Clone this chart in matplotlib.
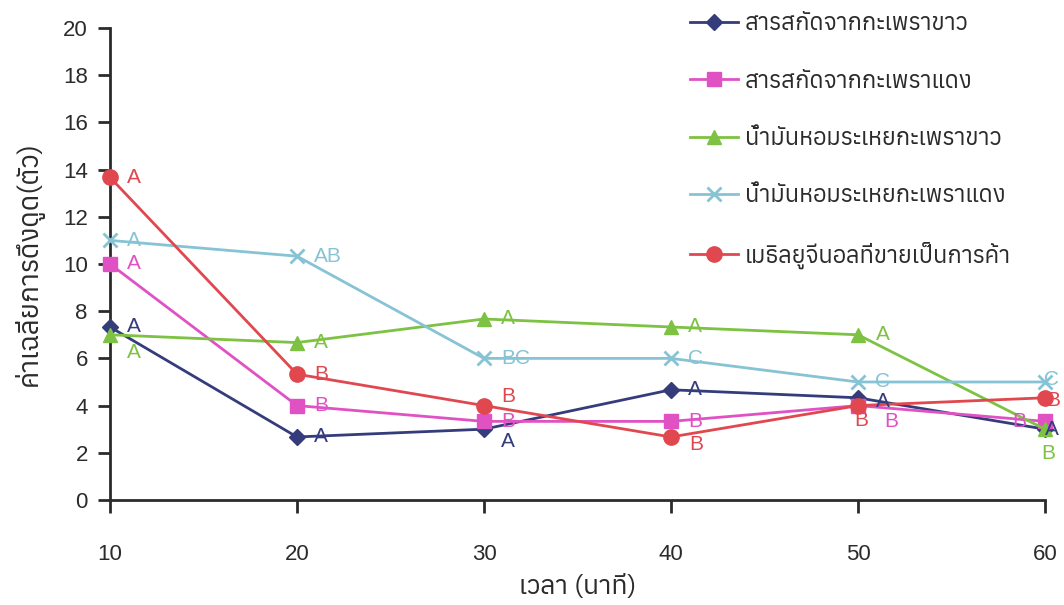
import matplotlib
matplotlib.use("Agg")
import matplotlib.pyplot as plt
from matplotlib import font_manager
from matplotlib.ft2font import FT2Font

# ---------------- data ----------------
times = [10, 20, 30, 40, 50, 60]
series_names = [
    "สารสกัดจากกะเพราขาว",
    "สารสกัดจากกะเพราแดง",
    "น้ำมันหอมระเหยกะเพราขาว",
    "น้ำมันหอมระเหยกะเพราแดง",
    "เมธิลยูจีนอลที่ขายเป็นการค้า",
]
white_extract = [7.33, 2.67, 3.0, 4.67, 4.33, 3.0]
red_extract = [10.0, 4.0, 3.33, 3.33, 4.0, 3.33]
white_oil = [7.0, 6.67, 7.67, 7.33, 7.0, 3.0]
red_oil = [11.0, 10.33, 6.0, 6.0, 5.0, 5.0]
methyl_eugenol = [13.67, 5.33, 4.0, 2.67, 4.0, 4.33]

white_extract_letters = ["A", "A", "A", "A", "A", "A"]
red_extract_letters = ["A", "B", "B", "B", "B", "B"]
white_oil_letters = ["A", "A", "A", "A", "A", "B"]
red_oil_letters = ["A", "AB", "BC", "C", "C", "C"]
methyl_eugenol_letters = ["A", "B", "B", "B", "B", "B"]

x_ticks = [10, 20, 30, 40, 50, 60]
y_ticks = [0, 2, 4, 6, 8, 10, 12, 14, 16, 18, 20]
x_label = "เวลา (นาที)"
y_label = "ค่าเฉลี่ยการดึงดูด(ตัว)"

# ---------------- fonts ----------------
def find_thai_font():
    cands = []
    for f in font_manager.fontManager.ttflist:
        try:
            ft = FT2Font(f.fname)
            if ft.get_char_index(ord("ก")) != 0:
                cands.append(f.name)
        except Exception:
            pass
    return sorted(set(cands))

thai = find_thai_font()
families = thai[:1] + ["Liberation Sans", "DejaVu Sans"]
plt.rcParams["font.family"] = families
latin = ["Liberation Sans", "DejaVu Sans"]
txt_color = "#2b2b2b"

colors = ["#343c7c", "#e052c4", "#7dc242", "#86c3d4", "#e0474f"]
markers = ["D", "s", "^", "x", "o"]
msizes = [8, 10, 10, 10, 11]
values = [white_extract, red_extract, white_oil, red_oil, methyl_eugenol]
letters = [white_extract_letters, red_extract_letters, white_oil_letters,
           red_oil_letters, methyl_eugenol_letters]

# letter offsets in pixels (dx for left edge, dy up positive)
std = (17, 0)
offsets = [
    [std, std, (17, -12), std, (18, -4), (0, 0)],
    [std, std, std, std, (26, -16), (-33, 0)],
    [(17, -18), std, std, std, (18, 0), (-4, -24)],
    [std, std, std, std, std, (-1, 2)],
    [std, std, (17, 9), (18, -8), (-4, -15), (1, -3)],
]

fig = plt.figure(figsize=(10.64, 6.05), dpi=100)
ax = fig.add_axes([0.1034, 0.1736, 0.8787, 0.7801])

for i in range(5):
    mew = 2 if markers[i] == "x" else 1
    ax.plot(times, values[i], color=colors[i], marker=markers[i], markersize=msizes[i],
            markeredgewidth=mew, linewidth=2, label=series_names[i], clip_on=False, zorder=3)
    for j, (t, v) in enumerate(zip(times, values[i])):
        dx, dy = offsets[i][j]
        ax.annotate(letters[i][j], (t, v), xytext=(dx, dy), textcoords="offset pixels",
                    ha="left", va="center", color=colors[i], fontsize=15,
                    family=latin, annotation_clip=False, zorder=4)

ax.set_xlim(10, 60)
ax.set_ylim(0, 20)
ax.set_xticks(x_ticks)
ax.set_yticks(y_ticks)
for s in ["top", "right"]:
    ax.spines[s].set_visible(False)
for s in ["left", "bottom"]:
    ax.spines[s].set_linewidth(2)
    ax.spines[s].set_color(txt_color)
ax.tick_params(axis="both", direction="out", length=9, width=2, color=txt_color,
               labelsize=16, labelcolor=txt_color, labelfontfamily=latin)
ax.tick_params(axis="x", pad=23)
ax.tick_params(axis="y", pad=7)

ax.set_xlabel(x_label, fontsize=19, fontweight="bold", color=txt_color, labelpad=6)
ax.set_ylabel(y_label, fontsize=20, fontweight="bold", color=txt_color, labelpad=14)

leg = ax.legend(loc="upper left", bbox_to_anchor=(0.598, 1.078), frameon=False,
                fontsize=17, labelspacing=1.45, handlelength=2.0, handletextpad=0.3,
                labelcolor=txt_color)

fig.savefig("out.png", dpi=100)
